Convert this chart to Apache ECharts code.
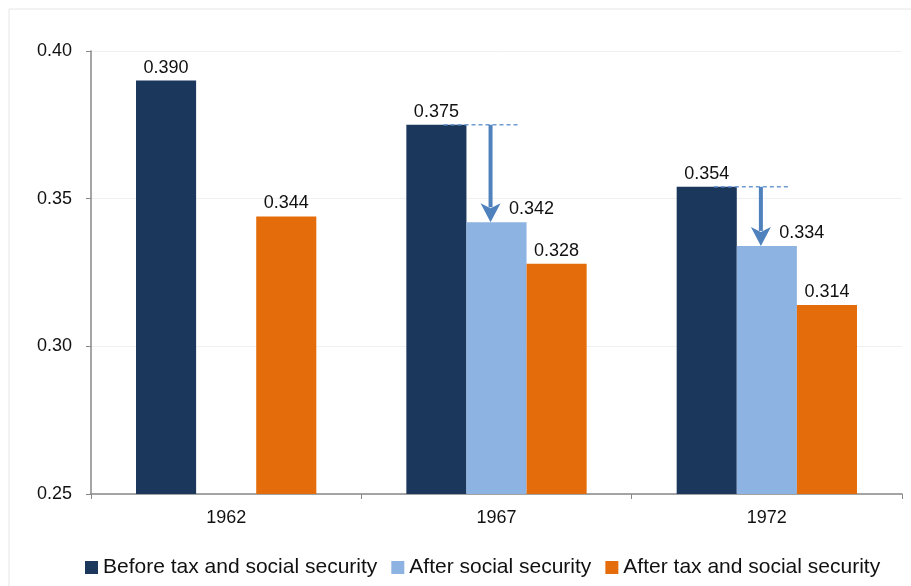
<!DOCTYPE html>
<html>
<head>
<meta charset="utf-8">
<script src="https://cdn.jsdelivr.net/npm/echarts@6/dist/echarts.min.js"></script>
<style>
  html, body { margin: 0; padding: 0; background: #fff; }
  #chart { width: 911px; height: 586px; }
</style>
</head>
<body>
<div id="chart"></div>
<script>
var years = ['1962', '1967', '1972'];
var seriesNames = ['Before tax and social security', 'After social security', 'After tax and social security'];
var beforeTax = [0.390, 0.375, 0.354];
var afterSocial = [null, 0.342, 0.334];
var afterTax = [0.344, 0.328, 0.314];

// arrows: [category index, from value, to value]
var arrows = [];
for (var i = 0; i < years.length; i++) {
    if (afterSocial[i] != null) arrows.push([i, beforeTax[i], afterSocial[i]]);
}

var labelFont = { fontFamily: 'Liberation Sans, Arial', fontSize: 18, color: '#111' };

function barSeries(name, data, color, extraLabel) {
    var label = Object.assign({ show: true, position: 'top', distance: 4,
        formatter: function (p) { return p.value.toFixed(3); } }, labelFont, extraLabel || {});
    return {
        name: name,
        type: 'bar',
        data: data,
        barGap: '0%',
        barCategoryGap: '33.3%',
        itemStyle: { color: color },
        label: label
    };
}

var chart = echarts.init(document.getElementById('chart'));
chart.setOption({
    animation: false,
    backgroundColor: '#fff',
    color: ['#1b375c', '#8db3e2', '#e46c0a'],
    graphic: [{
        type: 'rect',
        shape: { x: 9, y: 9, width: 920, height: 600 },
        style: { fill: null, stroke: '#e6e6e6', lineWidth: 1 },
        silent: true, z: -1
    }],
    grid: { left: 91, right: 9, top: 51, bottom: 92 },
    legend: {
        data: seriesNames,
        left: 80,
        bottom: 3,
        itemWidth: 13,
        itemHeight: 13,
        itemGap: 14,
        icon: 'rect',
        textStyle: { fontFamily: 'Liberation Sans, Arial', fontSize: 21, color: '#111' }
    },
    xAxis: {
        type: 'category',
        data: years,
        axisLine: { lineStyle: { color: '#888', width: 1.5 } },
        axisTick: { show: true, length: 5, lineStyle: { color: '#888' } },
        axisLabel: Object.assign({ margin: 15 }, labelFont)
    },
    yAxis: {
        type: 'value',
        min: 0.25,
        max: 0.40,
        interval: 0.05,
        axisLine: { show: true, lineStyle: { color: '#888', width: 1.5 } },
        axisTick: { show: true, length: 5, lineStyle: { color: '#888' } },
        splitLine: { lineStyle: { color: '#f0f0f0' } },
        axisLabel: Object.assign({ margin: 19, formatter: function (v) { return v.toFixed(2); } }, labelFont)
    },
    series: [
        barSeries(seriesNames[0], beforeTax, '#1b375c'),
        barSeries(seriesNames[1], afterSocial, '#8db3e2', { offset: [35, 0] }),
        barSeries(seriesNames[2], afterTax, '#e46c0a'),
        {
            type: 'custom',
            name: 'arrows',
            data: arrows,
            z: 5,
            silent: true,
            renderItem: function (params, api) {
                var top = api.coord([api.value(0), api.value(1)]);
                var bot = api.coord([api.value(0), api.value(2)]);
                var bw = api.size([1, 0])[0];
                var cx = top[0];
                var ax = cx - 0.022 * bw;
                var headH = 19, headW = 10;
                return {
                    type: 'group',
                    children: [{
                        type: 'line',
                        shape: { x1: cx - 0.196 * bw, y1: top[1], x2: cx + 0.078 * bw, y2: top[1] },
                        style: { stroke: '#6f9bd3', lineWidth: 1.5, lineDash: [4, 3] }
                    }, {
                        type: 'line',
                        shape: { x1: ax, y1: top[1], x2: ax, y2: bot[1] - headH + 4 },
                        style: { stroke: '#4f81bd', lineWidth: 4 }
                    }, {
                        type: 'polygon',
                        shape: { points: [[ax - headW, bot[1] - headH], [ax, bot[1]], [ax + headW, bot[1] - headH], [ax, bot[1] - headH + 5]] },
                        style: { fill: '#4f81bd' }
                    }]
                };
            }
        }
    ]
});
</script>
</body>
</html>
